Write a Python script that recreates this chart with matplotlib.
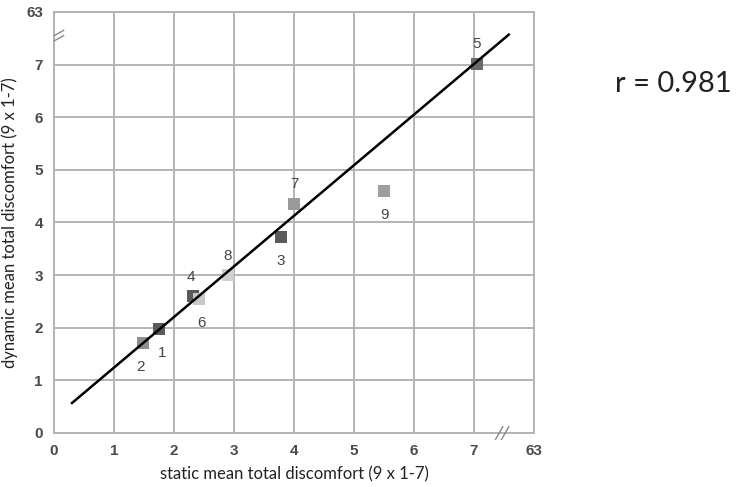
import matplotlib
matplotlib.use("Agg")
import matplotlib.pyplot as plt

# data
point_ids = ["1", "2", "3", "4", "5", "6", "7", "8", "9"]
static_vals = [1.75, 1.48, 3.78, 2.32, 7.05, 2.42, 4.00, 2.90, 5.50]
dynamic_vals = [1.97, 1.71, 3.72, 2.60, 7.02, 2.54, 4.36, 3.00, 4.59]
point_colors = ["#5a5a5a", "#8f8f8f", "#5a5a5a", "#5a5a5a", "#6a6a6a",
                "#c8c8c8", "#9a9a9a", "#d0d0d0", "#9e9e9e"]
# label offsets in points (dx, dy)
label_offsets = [(2, -17), (-2, -17), (0, -17), (-2, 14), (0, 14),
                 (2, -17), (0, 14), (0, 14), (0, -17)]
fit_x = [0.30, 7.58]
fit_y = [0.57, 7.57]
tick_pos = [0, 1, 2, 3, 4, 5, 6, 7, 8]
tick_labels = ["0", "1", "2", "3", "4", "5", "6", "7", "63"]
r_text = "r = 0.981"

fig = plt.figure(figsize=(7.42, 4.87), dpi=100)
ax = fig.add_axes([0.0728, 0.1109, 0.6469, 0.8645])

ax.set_xlim(0, 8)
ax.set_ylim(0, 8)
ax.set_xticks(tick_pos)
ax.set_yticks(tick_pos)
ax.set_xticklabels(tick_labels)
ax.set_yticklabels(tick_labels)
ax.grid(True, color="#b4b4b4", lw=1.4)
ax.set_axisbelow(True)
for sp in ax.spines.values():
    sp.set_color("#b4b4b4")
    sp.set_linewidth(1.4)
ax.tick_params(length=0, pad=8, labelsize=11, labelcolor="#4a4a4a")
for lab in ax.get_xticklabels() + ax.get_yticklabels():
    lab.set_family("Liberation Sans")
    lab.set_fontweight("bold")

ax.plot(fit_x, fit_y, color="black", lw=1.8, zorder=4)

for i in range(len(point_ids)):
    ax.scatter(static_vals[i], dynamic_vals[i], marker="s", s=75,
               color=point_colors[i], zorder=3, linewidths=0)
    dx, dy = label_offsets[i]
    ax.annotate(point_ids[i], (static_vals[i], dynamic_vals[i]),
                xytext=(dx, dy), textcoords="offset points",
                ha="center", va="center", fontsize=11, color="#444444",
                family="Liberation Sans", zorder=5)

# axis break marks
for off in (-0.05, 0.05):
    ax.plot([7.47 + off - 0.06, 7.47 + off + 0.06], [-0.12, 0.12],
            color="#888888", lw=1, clip_on=False, zorder=6)
    ax.plot([0.0, 0.16], [7.55 + off - 0.05, 7.55 + off + 0.05],
            color="#888888", lw=1, clip_on=False, zorder=6)

ax.set_xlabel("static mean total discomfort (9 x 1-7)", family="Lato",
              fontsize=12, color="#222222", labelpad=6)
ax.set_ylabel("dynamic mean total discomfort (9 x 1-7)", family="Lato",
              fontsize=12, color="#222222", labelpad=6)

fig.text(0.908, 0.827, r_text, family="Lato", fontsize=21,
         color="#222222", ha="center", va="center")

fig.savefig("out.png", dpi=100)
